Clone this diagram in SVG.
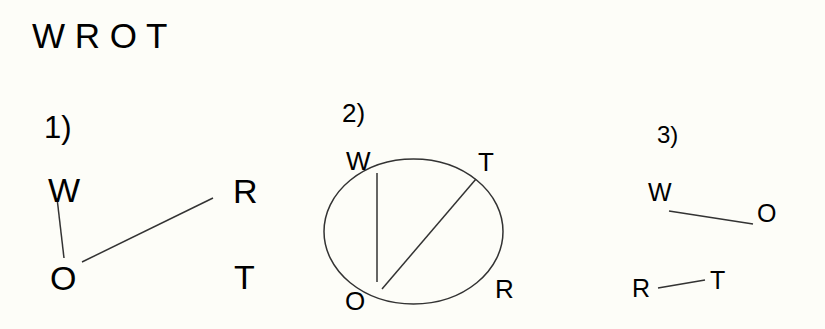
<svg xmlns="http://www.w3.org/2000/svg" width="825" height="329" viewBox="0 0 825 329">
<style>
text{font-family:"Liberation Sans",Arial,sans-serif;fill:#000}
.l{stroke:#333;stroke-width:1.5;fill:none}
.a{font-size:34px}.b{font-size:26px}.c{font-size:25px}
</style>
<rect width="825" height="329" fill="#fdfdf8"/>
<text x="32" y="48" style="font-size:35px">W R O T</text>
<text x="44" y="138" style="font-size:31px">1)</text>
<text x="342" y="122" style="font-size:26px">2)</text>
<text x="657" y="143" style="font-size:24px">3)</text>
<g id="connectors">
<line class="l" x1="57" y1="198" x2="64" y2="258"/>
<line class="l" x1="82" y1="262" x2="213" y2="198"/>
<ellipse class="l" cx="413.5" cy="231.5" rx="89.5" ry="72.5"/>
<line class="l" x1="377" y1="173" x2="377" y2="282"/>
<line class="l" x1="476" y1="179" x2="382" y2="289"/>
<line class="l" x1="669" y1="211" x2="753" y2="224"/>
<line class="l" x1="658" y1="288" x2="705" y2="280"/>
</g>
<g id="n1W"><text class="a" x="48" y="202">W</text></g>
<g id="n1R"><text class="a" x="233" y="203">R</text></g>
<g id="n1O"><text class="a" x="50" y="290">O</text></g>
<g id="n1T"><text class="a" x="234" y="289">T</text></g>
<g id="n2W"><text class="b" x="346" y="170">W</text></g>
<g id="n2T"><text class="b" x="478" y="171">T</text></g>
<g id="n2O"><text class="b" x="345" y="310">O</text></g>
<g id="n2R"><text class="b" x="495" y="298">R</text></g>
<g id="n3W"><text class="c" x="648" y="201">W</text></g>
<g id="n3O"><text class="c" x="757" y="222">O</text></g>
<g id="n3R"><text class="c" x="632" y="297">R</text></g>
<g id="n3T"><text class="c" x="710" y="289">T</text></g>
</svg>
